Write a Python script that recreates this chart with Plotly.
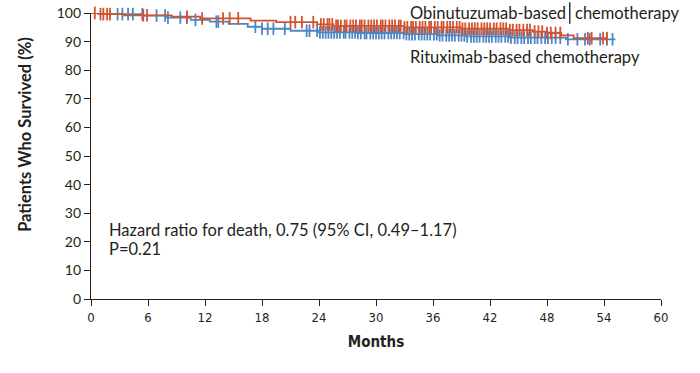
import plotly.graph_objects as go
import numpy as np

# Kaplan-Meier step data (months, % survived)
obi_times = [0, 0.8, 3.5, 8.5, 11.5, 16.8, 19.5, 23.8, 25.5, 33.0, 39.0, 44.0, 46.5, 48.0, 49.5, 50.8]
obi_surv = [100, 99.6, 99.2, 98.7, 98.1, 97.3, 96.8, 96.0, 95.5, 95.0, 94.5, 94.0, 93.5, 93.0, 92.2, 91.2]
obi_end = 54.4

rit_times = [0, 1.0, 5.5, 8.0, 10.5, 12.5, 14.5, 16.5, 18.0, 21.0, 24.0, 28.0, 33.0, 36.5, 39.5, 44.0, 50.0]
rit_surv = [100, 99.6, 99.1, 98.4, 97.6, 97.0, 96.2, 95.2, 94.5, 93.8, 93.2, 93.0, 92.6, 92.2, 91.8, 91.4, 90.8]
rit_end = 55.2

# Censoring times (months)
obi_censor = [0.4, 1.0, 1.3, 1.7, 2.0, 5.5, 5.9, 10.1, 11.7, 13.9, 14.6, 15.5, 21.0, 21.5, 22.2, 23.4,
              24.2, 24.5, 24.9, 25.1, 25.4, 25.8, 26.0, 26.3, 26.7, 26.9, 27.3, 27.6, 27.9, 28.3, 28.5,
              28.8, 29.2, 29.5, 29.8, 30.1, 30.5, 30.7, 31.0, 31.4, 31.7, 32.0, 32.4, 32.6, 33.0, 33.3,
              33.7, 33.9, 34.2, 34.6, 34.9, 35.2, 35.6, 35.8, 36.2, 36.5, 36.9, 37.1, 37.5, 37.8, 38.1,
              38.5, 38.8, 39.1, 39.4, 39.8, 40.1, 40.4, 40.7, 41.1, 41.4, 41.7, 42.0, 42.4, 42.7, 43.1,
              43.4, 43.7, 44.1, 44.4, 44.8, 45.1, 45.5, 45.9, 46.2, 46.7, 47.1, 47.5, 48.0, 48.4, 48.9,
              49.4, 52.3, 52.7, 53.9, 54.3]
rit_censor = [2.8, 3.3, 3.9, 4.4, 5.4, 6.9, 7.8, 8.1, 9.4, 10.1, 11.0, 13.2, 13.4, 17.3, 18.0, 18.6,
              19.2, 20.4, 22.7, 23.0, 23.8, 24.1, 24.4, 24.7, 25.0, 25.3, 25.6, 25.9, 26.2, 26.6, 26.8,
              27.2, 27.5, 27.8, 28.1, 28.4, 28.8, 29.0, 29.4, 29.7, 30.0, 30.3, 30.6, 30.9, 31.3, 31.6,
              31.9, 32.2, 32.5, 32.9, 33.2, 33.5, 33.8, 34.1, 34.5, 34.8, 35.1, 35.4, 35.7, 36.1, 36.4,
              36.7, 37.0, 37.4, 37.7, 38.0, 38.3, 38.7, 39.0, 39.3, 39.6, 40.0, 40.3, 40.6, 40.9, 41.3,
              41.6, 41.9, 42.2, 42.6, 42.9, 43.2, 43.6, 43.9, 44.2, 44.6, 44.9, 45.3, 45.6, 46.0, 46.3,
              46.7, 47.0, 47.4, 47.8, 48.1, 48.5, 48.9, 49.4, 50.2, 51.2, 52.0, 52.5, 53.6, 54.3, 54.9]

x_ticks = [0, 6, 12, 18, 24, 30, 36, 42, 48, 54, 60]
y_ticks = [0, 10, 20, 30, 40, 50, 60, 70, 80, 90, 100]

RED = "#D4532F"
BLUE = "#4C86C6"
INK = "#231f20"


def km_at(times, surv, t):
    idx = np.searchsorted(times, t, side="right") - 1
    return [surv[i] for i in idx]


fig = go.Figure()
for times, surv, end, cens, col in [
    (rit_times, rit_surv, rit_end, rit_censor, BLUE),
    (obi_times, obi_surv, obi_end, obi_censor, RED),
]:
    fig.add_trace(go.Scatter(x=times + [end], y=surv + [surv[-1]], mode="lines",
                             line=dict(color=col, width=1.8, shape="hv"),
                             showlegend=False, hoverinfo="skip", cliponaxis=False))
    fig.add_trace(go.Scatter(x=cens, y=km_at(np.array(times), surv, np.array(cens)), mode="markers",
                             marker=dict(symbol="line-ns", size=9, line=dict(color=col, width=1.8)),
                             showlegend=False, hoverinfo="skip", cliponaxis=False))

ann_font = dict(family="Lato, Open Sans, sans-serif", size=16.5, color=INK)

fig.add_annotation(x=0.837, y=1.0, xref="paper", yref="paper", text="Obinutuzumab-based",
                   showarrow=False, xanchor="right", yanchor="middle", font=ann_font)
fig.add_annotation(x=0.8456, y=1.0, xref="paper", yref="paper", text="chemotherapy",
                   showarrow=False, xanchor="left", yanchor="middle", font=ann_font)
fig.add_shape(type="line", x0=50.4, x1=50.4, y0=1.038, y1=0.962, xref="x", yref="paper",
              line=dict(color="black", width=1.2))
fig.add_annotation(x=33.4, y=84.6, xref="x", yref="y", text="Rituximab-based chemotherapy",
                   showarrow=False, xanchor="left", yanchor="middle", font=ann_font)
fig.add_annotation(x=1.7, y=24.0, xref="x", yref="y",
                   text="Hazard ratio for death, 0.75 (95% CI, 0.49–1.17)",
                   showarrow=False, xanchor="left", yanchor="middle", font=ann_font)
fig.add_annotation(x=1.7, y=17.6, xref="x", yref="y", text="P=0.21",
                   showarrow=False, xanchor="left", yanchor="middle", font=ann_font)

fig.add_annotation(x=-0.116, y=0.577, xref="paper", yref="paper", text="<b>Patients Who Survived (%)</b>",
                   showarrow=False, textangle=-90, xanchor="center", yanchor="middle",
                   font=dict(family="Lato, Open Sans, sans-serif", size=16.5, color=INK))

fig.update_layout(
    width=700, height=373,
    margin=dict(l=91, r=39, t=13, b=74),
    plot_bgcolor="white", paper_bgcolor="white",
    xaxis=dict(range=[0, 60], tickvals=x_ticks, ticktext=[str(v) for v in x_ticks], automargin=False,
               ticklabeloverflow="allow",
               showgrid=False, zeroline=False, showline=True, linecolor=INK, linewidth=1.2,
               ticks="outside", ticklen=6, tickwidth=1.2, tickcolor=INK,
               tickfont=dict(family="Liberation Sans Narrow, DejaVu Sans Condensed, sans-serif", size=13, color=INK),
               title=dict(text="<b>Months</b>", standoff=12,
                          font=dict(family="Liberation Sans Narrow, DejaVu Sans Condensed, sans-serif", size=15, color=INK))),
    yaxis=dict(range=[0, 100], tickvals=y_ticks, ticktext=[str(v) for v in y_ticks], automargin=False,
               ticklabeloverflow="allow",
               showgrid=False, zeroline=False, showline=True, linecolor=INK, linewidth=1.2,
               ticks="outside", ticklen=6, tickwidth=1.2, tickcolor=INK,
               tickfont=dict(family="Lato, Open Sans, sans-serif", size=14, color=INK)),
)

# remove the default 8px page margin so the 700x373 figure fills the window exactly
fig.write_html("out.html", config={"displayModeBar": False},
               post_script="document.body.style.margin='0px';")
